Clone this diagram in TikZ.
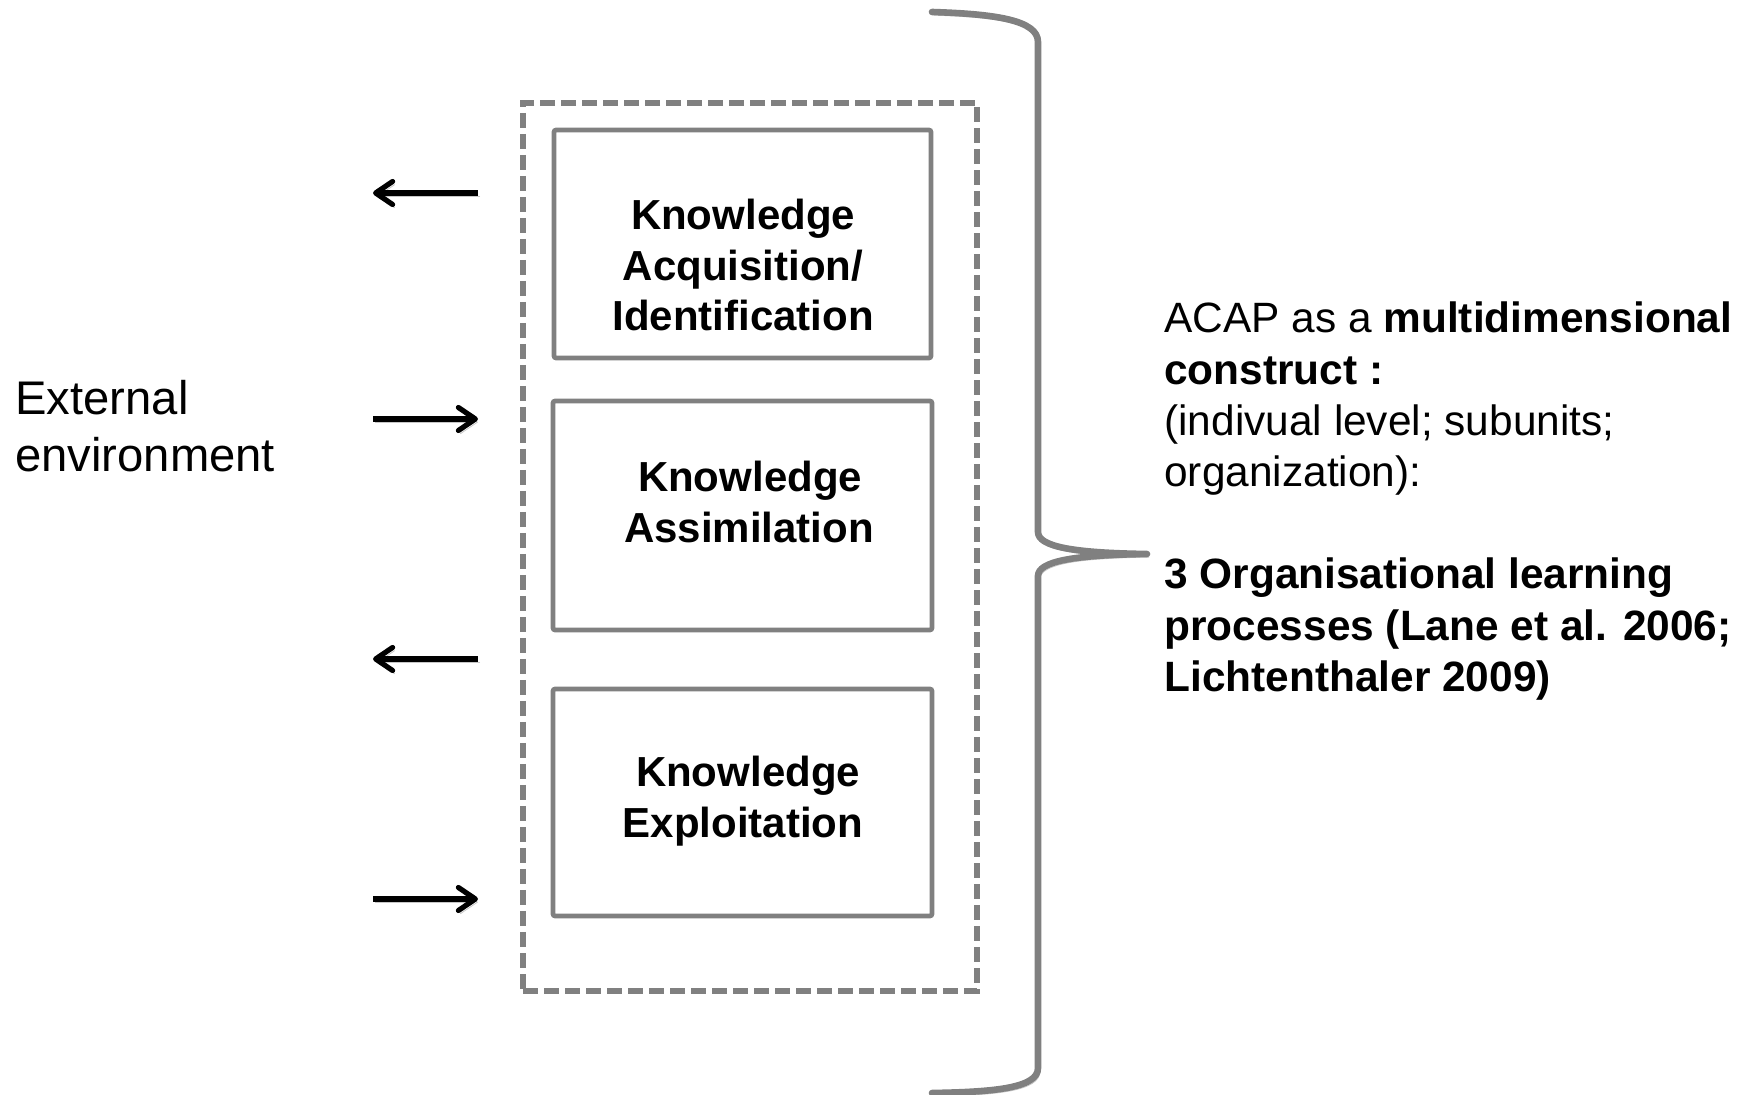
\documentclass[tikz,border=0pt]{standalone}
\usepackage{fontspec}
\setmainfont{Liberation Sans}
\usetikzlibrary{arrows.meta}

\definecolor{framegray}{HTML}{808080}

\begin{document}
\begin{tikzpicture}[x=0.5pt,y=-0.5pt,
  softshadow/.style={preaction={draw=black!22, transform canvas={xshift=1pt,yshift=-1.6pt}}},
  stagebox/.style={draw=framegray, line width=2.3pt, rounded corners=1pt, inner sep=0},
  outerbox/.style={draw=framegray, line width=2.6pt, dash pattern=on 7.5pt off 3pt, inner sep=0},
  boxtext/.style={font=\fontsize{21}{25}\selectfont\bfseries, inner sep=0, anchor=base},
  sidetext/.style={font=\fontsize{21.2}{25}\selectfont, inner sep=0, anchor=base west},
  envtext/.style={font=\fontsize{23.6}{28}\selectfont, inner sep=0, anchor=base west},
  flow/.style={draw=black, line width=2.6pt, softshadow,
    -{Straight Barb[length=8.5pt,width=11.5pt,round]}},
  bracket/.style={draw=framegray, line width=3.3pt, line cap=round, line join=round, softshadow}]
\useasboundingbox (0,0) rectangle (1752,1095);

% dashed frame around the three stages
\node[outerbox, minimum width=227pt, minimum height=444pt] (frame) at (750,547) {};

% the three learning stages
\node[stagebox, minimum width=188.5pt, minimum height=114pt] (b1) at (742.5,244) {};
\node[stagebox, minimum width=189.5pt, minimum height=114.5pt] (b2) at (742.5,515.5) {};
\node[stagebox, minimum width=189.5pt, minimum height=113.5pt] (b3) at (742.5,802.5) {};

\node[boxtext] (b1l1) at (743,230) {Knowledge};
\node[boxtext] (b1l2) at (743,280.5) {Acquisition/};
\node[boxtext] (b1l3) at (743,331) {Identification};

\node[boxtext] (b2l1) at (750,492) {Knowledge};
\node[boxtext] (b2l2) at (749,542.5) {Assimilation};

\node[boxtext] (b3l1) at (748,787) {Knowledge};
\node[boxtext] (b3l2) at (743,837.5) {Exploitation};

% environment label
\node[envtext] (env1) at (15,415) {External};
\node[envtext] (env2) at (15,472) {environment};

% exchange arrows between the environment and the frame
\coordinate (a1in) at (478,193);  \coordinate (a1out) at (373,193);
\coordinate (a2in) at (373,419);  \coordinate (a2out) at (478,419);
\coordinate (a3in) at (478,659);  \coordinate (a3out) at (373,659);
\coordinate (a4in) at (373,899);  \coordinate (a4out) at (478,899);
\draw[flow] (a1in) -- (a1out);
\draw[flow] (a2in) -- (a2out);
\draw[flow] (a3in) -- (a3out);
\draw[flow] (a4in) -- (a4out);

% curly bracket
\coordinate (tip) at (1147,554);
\draw[bracket] (932,12) .. controls (995,14) and (1038,20) .. (1038,42)
  -- (1038,532) .. controls (1038,547) and (1075,553) .. (tip)
  .. controls (1075,555) and (1038,561) .. (1038,576)
  -- (1038,1068) .. controls (1038,1088) and (995,1092) .. (932,1093);

% description on the right
\node[sidetext] (r1) at (1164,333) {ACAP as a \textbf{multidimensional}};
\node[sidetext] (r2) at (1164,384.5) {\textbf{construct :}};
\node[sidetext] (r3) at (1164,436) {(indivual level; subunits;};
\node[sidetext] (r4) at (1164,487) {organization):};
\node[sidetext] (r5) at (1164,589) {\textbf{3 Organisational learning}};
\node[sidetext] (r6) at (1164,640.5) {\textbf{processes (Lane et al. 2006;}};
\node[sidetext] (r7) at (1164,692) {\textbf{Lichtenthaler 2009)}};
\end{tikzpicture}
\end{document}
